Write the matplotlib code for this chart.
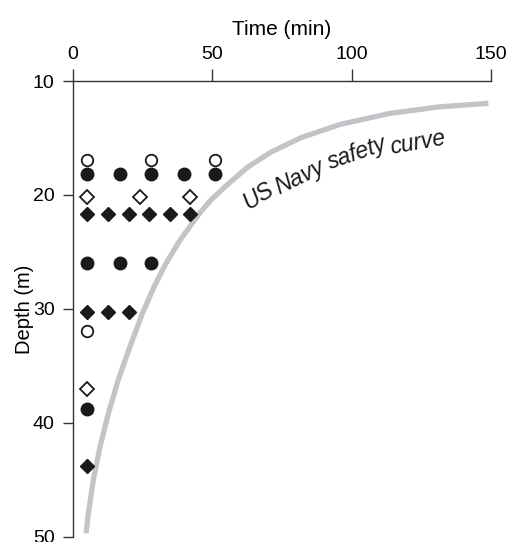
import matplotlib

matplotlib.use("Agg")

import matplotlib.pyplot as plt

plt.rcParams["font.family"] = ["Liberation Sans", "DejaVu Sans"]

# observations: time (min) vs depth (m)
open_circle_time = [5, 28, 51, 5]
open_circle_depth = [16.9, 16.9, 16.9, 31.9]

filled_circle_time = [5, 17, 28, 40, 51, 5, 17, 28, 5]
filled_circle_depth = [18.2, 18.2, 18.2, 18.2, 18.2, 26.0, 26.0, 26.0, 38.8]

open_diamond_time = [5, 24, 42, 5]
open_diamond_depth = [20.2, 20.2, 20.2, 37.0]

filled_diamond_time = [5, 12.5, 20, 27.5, 35, 42, 5, 12.5, 20, 5]
filled_diamond_depth = [21.7, 21.7, 21.7, 21.7, 21.7, 21.7, 30.3, 30.3, 30.3, 43.8]

# US Navy safety curve
curve_time = [4.8, 5.6, 7.4, 9.8, 12.8, 16.3, 20.5, 25.0, 28.9, 33.1, 38.5, 45.0,
              49.3, 54.5, 62.5, 71.0, 82.0, 96.0, 113.7, 131.6, 149.0]
curve_depth = [49.7, 47.96, 45.0, 42.1, 39.17, 36.25, 33.33, 30.4, 28.2, 26.15, 23.96, 21.76,
               20.5, 19.3, 17.6, 16.25, 14.95, 13.8, 12.84, 12.26, 11.96]

x_ticks = [0, 50, 100, 150]
y_ticks = [10, 20, 30, 40, 50]

ink = "#1a1a1a"

fig = plt.figure(figsize=(5.07, 5.42), dpi=100)
ax = fig.add_axes([0.1434, 0.0098, 0.8254, 0.8407])

ax.plot(curve_time, curve_depth, color="#c3c4c8", lw=3.8, solid_capstyle="butt",
        solid_joinstyle="round", zorder=1)

ax.plot(open_circle_time, open_circle_depth, "o", ms=8.3, mfc="white", mec=ink, mew=1.3, ls="none", zorder=3)
ax.plot(filled_circle_time, filled_circle_depth, "o", ms=9, mfc=ink, mec=ink, ls="none", zorder=3)
ax.plot(open_diamond_time, open_diamond_depth, "D", ms=7.0, mfc="white", mec=ink, mew=1.3, ls="none", zorder=3)
ax.plot(filled_diamond_time, filled_diamond_depth, "D", ms=7.4, mfc=ink, mec=ink, ls="none", zorder=3)

label_words = [
    ("US", 66.6, 20.1, 32),
    ("Navy", 81.2, 18.45, 26),
    ("safety", 101.8, 16.35, 19),
    ("curve", 123.6, 15.45, 10),
]
for word, tx, ty, rot in label_words:
    ax.text(tx, ty, word, rotation=rot, rotation_mode="anchor", ha="center", va="center",
            fontsize=16.5, style="italic", color=ink)

ax.set_xlim(0, 150)
ax.set_ylim(50, 10)
ax.set_xticks(x_ticks)
ax.set_yticks(y_ticks)

ax.xaxis.set_ticks_position("top")
ax.xaxis.set_label_position("top")
ax.spines["bottom"].set_visible(False)
ax.spines["right"].set_visible(False)
for side in ("top", "left"):
    ax.spines[side].set_color("#333333")
    ax.spines[side].set_linewidth(1.0)

ax.tick_params(axis="x", direction="out", length=9, width=1.0, color="#333333", pad=4, labelsize=14)
ax.tick_params(axis="y", direction="out", length=7, width=1.0, color="#333333", pad=6, labelsize=14)
ax.set_xlabel("Time (min)", fontsize=15, labelpad=8)
ax.set_ylabel("Depth (m)", fontsize=14.5, labelpad=-1)

fig.savefig("out.png", dpi=100)
